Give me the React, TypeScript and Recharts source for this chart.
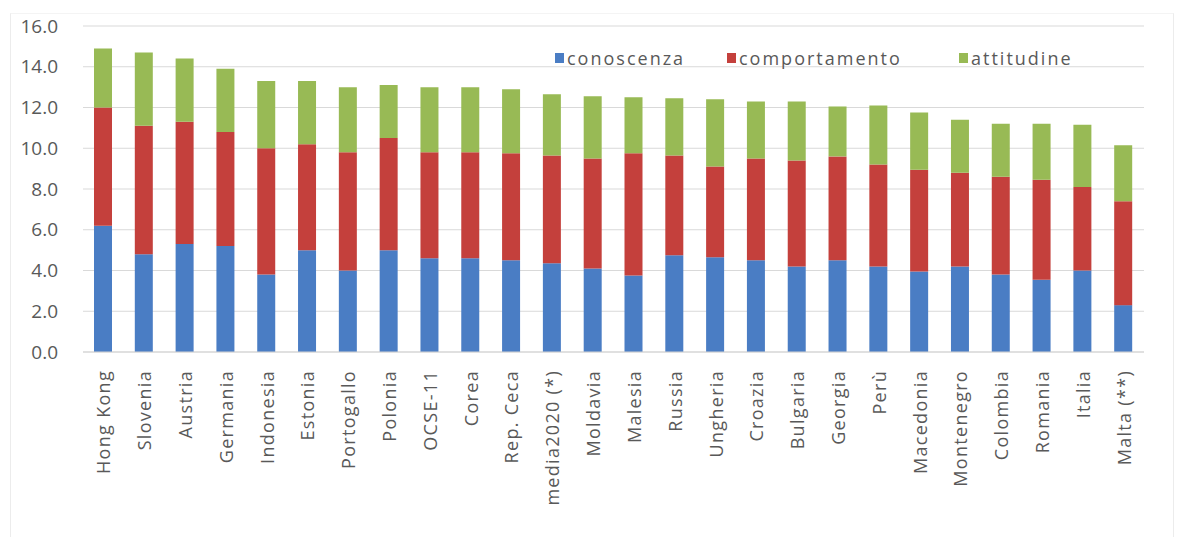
import { BarChart, Bar, XAxis, YAxis, CartesianGrid, Legend } from 'recharts';

const categories = [
  'Hong Kong', 'Slovenia', 'Austria', 'Germania', 'Indonesia', 'Estonia', 'Portogallo', 'Polonia',
  'OCSE-11', 'Corea', 'Rep. Ceca', 'media2020 (*)', 'Moldavia', 'Malesia', 'Russia', 'Ungheria',
  'Croazia', 'Bulgaria', 'Georgia', 'Perù', 'Macedonia', 'Montenegro', 'Colombia', 'Romania',
  'Italia', 'Malta (**)',
];
const conoscenza = [6.2, 4.8, 5.3, 5.2, 3.8, 5.0, 4.0, 5.0, 4.6, 4.6, 4.5, 4.35, 4.1, 3.75, 4.75, 4.65, 4.5, 4.2, 4.5, 4.2, 3.95, 4.2, 3.8, 3.55, 4.0, 2.3];
const comportamento = [5.8, 6.3, 6.0, 5.6, 6.2, 5.2, 5.8, 5.5, 5.2, 5.2, 5.25, 5.3, 5.4, 6.0, 4.9, 4.45, 5.0, 5.2, 5.1, 5.0, 5.0, 4.6, 4.8, 4.9, 4.1, 5.1];
const attitudine = [2.9, 3.6, 3.1, 3.1, 3.3, 3.1, 3.2, 2.6, 3.2, 3.2, 3.15, 3.0, 3.05, 2.75, 2.8, 3.3, 2.8, 2.9, 2.45, 2.9, 2.8, 2.6, 2.6, 2.75, 3.05, 2.75];
const yTicks = [0, 2, 4, 6, 8, 10, 12, 14, 16];
const seriesOrder = ['conoscenza', 'comportamento', 'attitudine'];

const data = categories.map((name, i) => ({
  name,
  conoscenza: conoscenza[i],
  comportamento: comportamento[i],
  attitudine: attitudine[i],
}));

const FONT = '"Open Sans", sans-serif';
const TEXT = '#595959';

const XTick = ({ x, y, payload }: any) => (
  <text
    x={x}
    y={y}
    transform={`rotate(-90, ${x}, ${y})`}
    textAnchor="end"
    dominantBaseline="central"
    fill={TEXT}
    fontSize={18}
    letterSpacing={1.3}
    fontFamily={FONT}
  >
    {payload.value}
  </text>
);

const legendWidths = [172, 232, 140];

const renderLegend = ({ payload }: any) => {
  const items = [...(payload || [])].sort(
    (a: any, b: any) => seriesOrder.indexOf(a.dataKey) - seriesOrder.indexOf(b.dataKey)
  );
  return (
    <div style={{ display: 'flex', fontFamily: FONT, fontSize: 18, letterSpacing: 2, color: TEXT }}>
      {items.map((entry: any, i: number) => (
        <div key={entry.value} style={{ display: 'flex', alignItems: 'center', width: legendWidths[i] }}>
          <span style={{ width: 9, height: 10, background: entry.color, marginRight: 3 }} />
          <span>{entry.value}</span>
        </div>
      ))}
    </div>
  );
};

export default function App() {
  return (
    <div style={{ position: 'absolute', left: 0, top: 0, width: 1183, height: 537, background: '#fff' }}>
      <div
        style={{
          position: 'absolute', left: 10, top: 13, width: 1162, height: 530,
          borderLeft: '1px solid #ececec', borderRight: '1px solid #ececec', borderTop: '1px solid #f4f4f4',
        }}
      />
      <BarChart
        width={1183}
        height={537}
        data={data}
        margin={{ top: 26, right: 39, left: 0, bottom: 0 }}
        barSize={18}
      >
        <CartesianGrid vertical={false} stroke="#d9d9d9" />
        <XAxis
          dataKey="name"
          interval={0}
          height={185}
          tickLine={false}
          tickSize={0}
          tickMargin={18}
          axisLine={{ stroke: '#d4d4d4' }}
          tick={<XTick />}
        />
        <YAxis
          width={83}
          domain={[0, 16]}
          ticks={yTicks}
          axisLine={false}
          tickLine={false}
          tickSize={0}
          tickMargin={25}
          tickFormatter={(v: number) => v.toFixed(1)}
          tick={{ fill: TEXT, fontSize: 19, fontFamily: FONT }}
        />
        <Legend
          verticalAlign="middle"
          align="center"
          content={renderLegend}
          wrapperStyle={{ position: 'absolute', top: 46, left: 555, width: 560 }}
        />
        <Bar dataKey="conoscenza" stackId="a" fill="#4a7dc4" isAnimationActive={false} />
        <Bar dataKey="comportamento" stackId="a" fill="#c4403c" isAnimationActive={false} />
        <Bar dataKey="attitudine" stackId="a" fill="#98ba55" isAnimationActive={false} />
      </BarChart>
    </div>
  );
}
